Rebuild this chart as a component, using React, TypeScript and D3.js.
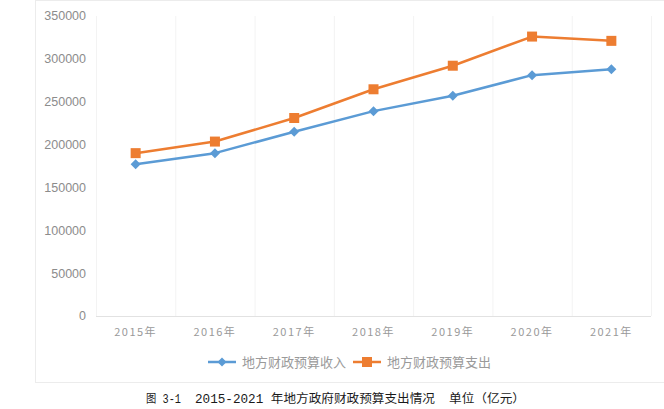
import React from "react";
import * as d3 from "d3";

const years = ["2015年", "2016年", "2017年", "2018年", "2019年", "2020年", "2021年"];
const revenue = [177000, 190000, 215000, 239000, 257000, 281000, 288000];
const expenditure = [190000, 203500, 231000, 264500, 292000, 326000, 321000];
const yTicks = [0, 50000, 100000, 150000, 200000, 250000, 300000, 350000];
const seriesNames = ["地方财政预算收入", "地方财政预算支出"];
const captionParts = ["图 3-1", "2015-2021 年地方政府财政预算支出情况", "单位（亿元）"];

const W = 664, H = 409;
const plot = { left: 96, right: 651, top: 16, bottom: 316 };
const BLUE = "#5b9bd5", ORANGE = "#ed7d31";

export default function App() {
  const x = d3.scaleBand<string>().domain(years).range([plot.left, plot.right]);
  const y = d3.scaleLinear().domain([0, 350000]).range([plot.bottom, plot.top]);
  const cx = (d: string) => (x(d) as number) + x.bandwidth() / 2;
  const line = d3.line<number>().x((_, i) => cx(years[i])).y((v) => y(v));
  const diamond = (px: number, py: number, r: number) =>
    `M${px},${py - r}L${px + r},${py}L${px},${py + r}L${px - r},${py}Z`;
  const boundaries = years.map((d) => x(d) as number).concat([plot.right]);
  const fontNum = "'Liberation Sans', Arial, sans-serif";
  const fontCJK = "'Noto Sans CJK SC', sans-serif";
  const capFont = "'Liberation Mono', 'Noto Sans CJK SC', monospace";
  return (
    <svg width={W} height={H} style={{ position: "absolute", left: 0, top: 0 }}>
      <rect x={0} y={0} width={W} height={H} fill="#fff" />
      <rect x={35.5} y={0.5} width={640} height={382} fill="#fff" stroke="#ececec" />
      {boundaries.map((bx, i) => (
        <line key={i} x1={bx + 0.5} x2={bx + 0.5} y1={plot.top} y2={plot.bottom} stroke="#f3f3f3" />
      ))}
      <line x1={plot.left} x2={plot.right} y1={plot.bottom + 0.5} y2={plot.bottom + 0.5} stroke="#e2e2e2" />
      {yTicks.map((t) => (
        <text key={t} x={86} y={y(t)} dy="0.35em" textAnchor="end" fontSize={12.5}
          fontFamily={fontNum} fill="#8c8c8c">{t}</text>
      ))}
      {years.map((d) => (
        <text key={d} x={cx(d)} y={336} textAnchor="middle" fontSize={11}
          fontFamily={fontCJK} fill="#9a9a9a" letterSpacing={1.5}>{d}</text>
      ))}
      <path d={line(revenue) || ""} fill="none" stroke={BLUE} strokeWidth={2.5} strokeLinejoin="round" />
      <path d={line(expenditure) || ""} fill="none" stroke={ORANGE} strokeWidth={2.5} strokeLinejoin="round" />
      {revenue.map((v, i) => (
        <path key={"r" + i} d={diamond(cx(years[i]), y(v), 5)} fill={BLUE} />
      ))}
      {expenditure.map((v, i) => (
        <rect key={"e" + i} x={cx(years[i]) - 5} y={y(v) - 5} width={10} height={10} fill={ORANGE} />
      ))}
      <g>
        <line x1={208} x2={236} y1={362} y2={362} stroke={BLUE} strokeWidth={2.5} />
        <path d={diamond(222, 362, 4.5)} fill={BLUE} />
        <text x={242} y={362} dy="0.35em" fontSize={13} fontFamily={fontCJK} fill="#9a9a9a">{seriesNames[0]}</text>
        <line x1={353} x2={381} y1={362} y2={362} stroke={ORANGE} strokeWidth={2.5} />
        <rect x={362} y={357} width={10} height={10} fill={ORANGE} />
        <text x={387} y={362} dy="0.35em" fontSize={13} fontFamily={fontCJK} fill="#9a9a9a">{seriesNames[1]}</text>
      </g>
      <g fontSize={12} fill="#1a1a1a" fontFamily={capFont}>
        <text x={146} y={399} dy="0.35em" textLength={35} lengthAdjust="spacingAndGlyphs">{captionParts[0]}</text>
        <text x={195} y={399} dy="0.35em" textLength={240} lengthAdjust="spacingAndGlyphs">{captionParts[1]}</text>
        <text x={449} y={399} dy="0.35em" textLength={76} lengthAdjust="spacingAndGlyphs">{captionParts[2]}</text>
      </g>
    </svg>
  );
}
